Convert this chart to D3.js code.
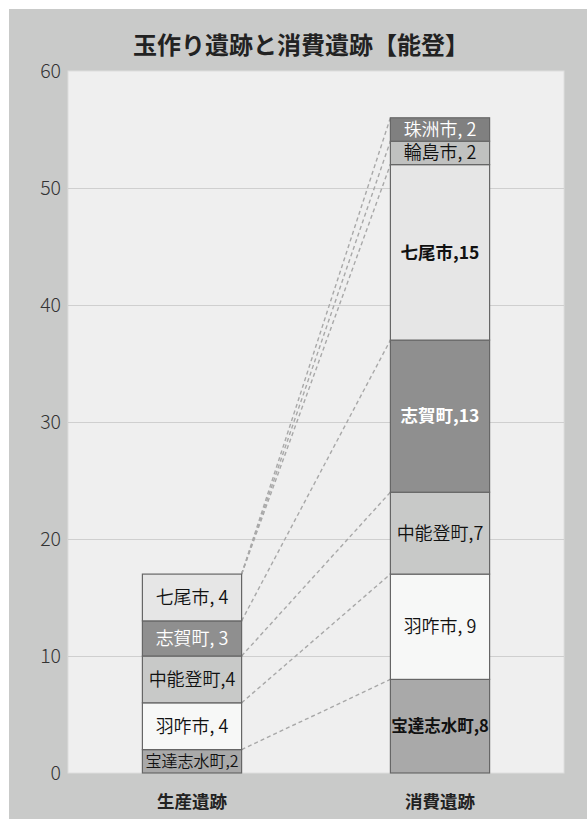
<!DOCTYPE html>
<html>
<head>
<meta charset="utf-8">
<script src="https://cdn.jsdelivr.net/npm/d3@7"></script>
<style>
  body { margin: 0; background: #fff; }
  svg { display: block; font-family: "Noto Sans CJK JP", "Noto Sans", sans-serif; }
</style>
</head>
<body>
<svg width="587" height="819"></svg>
<script>
var categories = ["生産遺跡", "消費遺跡"];
var towns = ["宝達志水町", "羽咋市", "中能登町", "志賀町", "七尾市", "輪島市", "珠洲市"];
var production = [2, 4, 4, 3, 4, 0, 0];
var consumption = [8, 9, 7, 13, 15, 2, 2];
var prodLabels = ["宝達志水町,2", "羽咋市, 4", "中能登町,4", "志賀町, 3", "七尾市, 4", "", ""];
var consLabels = ["宝達志水町,8", "羽咋市, 9", "中能登町,7", "志賀町,13", "七尾市,15", "輪島市, 2", "珠洲市, 2"];
var yTicks = [0, 10, 20, 30, 40, 50, 60];

var fills = ["#a9a9a9", "#f7f8f7", "#c8c9c8", "#8f8f8f", "#e6e6e6", "#c0c1c0", "#808080"];
var textFill = ["#111", "#111", "#111", "#fff", "#111", "#111", "#fff"];
var boldCons = [true, false, false, true, true, false, false];

var svg = d3.select("svg"),
    width = +svg.attr("width"),
    height = +svg.attr("height");

var plot = {left: 68, right: 564, top: 71, bottom: 773};

svg.append("rect").attr("x", 9).attr("y", 9)
    .attr("width", width - 9).attr("height", height - 9)
    .style("fill", "#c9cac9");

svg.append("rect").attr("x", plot.left).attr("y", plot.top)
    .attr("width", plot.right - plot.left).attr("height", plot.bottom - plot.top)
    .style("fill", "#efefef").style("stroke", "#dedede").style("stroke-width", 1);

var y = d3.scaleLinear().domain([0, 60]).range([plot.bottom, plot.top]);
var x = d3.scaleBand().domain(categories)
    .range([plot.left, plot.right])
    .paddingInner(0.6).paddingOuter(0.3);

// grid lines
svg.append("g").selectAll("line")
    .data(yTicks.filter(function(d) { return d > 0 && d < 60; }))
    .enter().append("line")
    .attr("x1", plot.left).attr("x2", plot.right)
    .attr("y1", function(d) { return Math.round(y(d)) + 0.5; })
    .attr("y2", function(d) { return Math.round(y(d)) + 0.5; })
    .style("stroke", "#cfcfcf").style("stroke-width", 1);

// y axis labels
var yAxis = svg.append("g")
    .attr("transform", "translate(" + plot.left + ",0)")
    .call(d3.axisLeft(y).tickValues(yTicks).tickSize(0).tickPadding(7));
yAxis.select(".domain").remove();
yAxis.selectAll("text")
    .style("font-family", "'Noto Sans CJK JP', sans-serif")
    .style("font-size", "19.5px").style("fill", "#333").style("font-weight", 300);

// stack the series
function stackOf(values) {
  var acc = 0;
  return values.map(function(v, i) {
    var d = {i: i, y0: acc, y1: acc + v, v: v};
    acc += v;
    return d;
  });
}
var series = [
  {cat: categories[0], data: stackOf(production), labels: prodLabels, bold: [false, false, false, false, false, false, false]},
  {cat: categories[1], data: stackOf(consumption), labels: consLabels, bold: boldCons}
];

// dashed connectors between the bars
var left = series[0], right = series[1];
var links = [
  [left.data[0].y1, right.data[0].y1],
  [left.data[1].y1, right.data[1].y1],
  [left.data[2].y1, right.data[2].y1],
  [left.data[3].y1, right.data[3].y1],
  [left.data[4].y1, right.data[4].y1],
  [left.data[4].y1, right.data[5].y1],
  [left.data[4].y1, right.data[6].y1]
];
var xl = x(categories[0]) + x.bandwidth(),
    xr = x(categories[1]);
svg.append("g").selectAll("line")
    .data(links)
    .enter().append("line")
    .attr("x1", xl).attr("y1", function(d) { return y(d[0]); })
    .attr("x2", xr).attr("y2", function(d) { return y(d[1]); })
    .style("stroke", "#a8a8a8").style("stroke-width", 1.4)
    .style("stroke-dasharray", "4,3");

series.forEach(function(s) {
  var g = svg.append("g");
  var segs = s.data.filter(function(d) { return d.v > 0; });
  g.selectAll("rect")
      .data(segs)
      .enter().append("rect")
      .attr("x", x(s.cat))
      .attr("width", x.bandwidth())
      .attr("y", function(d) { return y(d.y1); })
      .attr("height", function(d) { return y(d.y0) - y(d.y1); })
      .style("fill", function(d) { return fills[d.i]; })
      .style("stroke", "#666").style("stroke-width", 1.2);
  g.selectAll("text")
      .data(segs)
      .enter().append("text")
      .attr("x", x(s.cat) + x.bandwidth() / 2)
      .attr("y", function(d) { return (y(d.y0) + y(d.y1)) / 2; })
      .attr("dy", "0.36em")
      .style("text-anchor", "middle")
      .style("font-size", function(d) {
        if (d.i === 0 && s === left) return "16px";
        if (d.i === 0) return "16.5px";
        if (s.bold[d.i]) return "17.5px";
        return "18px";
      })
      .style("font-weight", function(d) { return s.bold[d.i] ? "bold" : 350; })
      .style("fill", function(d) { return textFill[d.i]; })
      .text(function(d) { return s.labels[d.i]; });
});

// category labels
svg.append("g").selectAll("text")
    .data(categories)
    .enter().append("text")
    .attr("x", function(d) { return x(d) + x.bandwidth() / 2; })
    .attr("y", 808)
    .style("text-anchor", "middle")
    .style("font-size", "17.5px").style("font-weight", "bold").style("fill", "#222")
    .text(function(d) { return d; });

svg.append("text")
    .attr("x", 301).attr("y", 54)
    .style("text-anchor", "middle")
    .style("font-size", "24px").style("font-weight", "bold").style("fill", "#222")
    .text("玉作り遺跡と消費遺跡【能登】");
</script>
</body>
</html>
